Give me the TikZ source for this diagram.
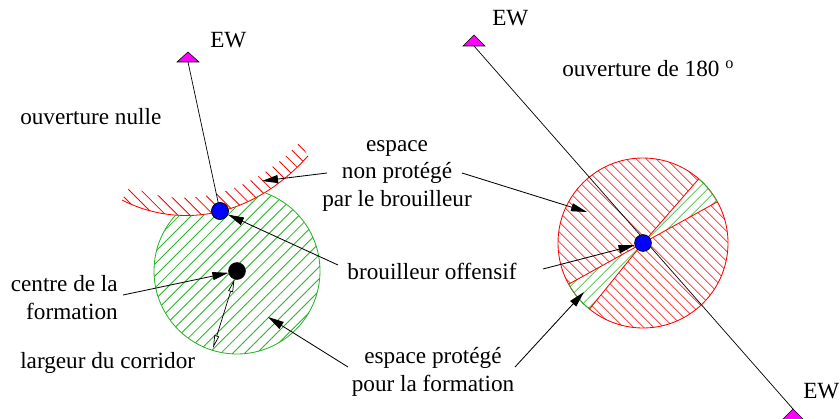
\documentclass[tikz,border=0pt]{standalone}
\usepackage{fontspec}
\setmainfont{Liberation Serif}
\usetikzlibrary{arrows.meta, patterns.meta}
\definecolor{figgreen}{RGB}{40,180,40}
\definecolor{figred}{RGB}{255,0,0}
\definecolor{figmag}{RGB}{255,0,255}
\definecolor{figblue}{RGB}{0,0,255}

\begin{document}
\begin{tikzpicture}[x=0.025cm, y=-0.025cm,
  txt/.style={inner sep=0pt, font=\rmfamily\fontsize{16.5}{19.9}\selectfont},
  lbl/.style={-{Triangle[length=4mm,width=2mm]}, line width=0.6pt},
  corr/.style={{Triangle[open,length=3.2mm,width=1.2mm]}-{Triangle[open,length=3.2mm,width=1.2mm]}, line width=0.5pt},
  dot/.style={circle, draw=black, line width=0.5pt, minimum size=0.42cm, inner sep=0pt},
  ewtri/.style={fill=figmag, draw=black, line width=0.4pt},
  redhatch/.style={pattern={Lines[angle=-45,distance=6pt,line width=0.6pt]}, pattern color=figred},
  greenhatch/.style={pattern={Lines[angle=45,distance=6pt,line width=0.6pt]}, pattern color=figgreen},
  redhatchB/.style={pattern={Lines[angle=-45,distance=5.4pt,line width=0.6pt]}, pattern color=figred},
  greenhatchB/.style={pattern={Lines[angle=45,distance=5.4pt,line width=0.6pt]}, pattern color=figgreen}]

\useasboundingbox (0,0) rectangle (840,419);

%left side: ouverture nulle
\coordinate (arcL) at (122,200);
\coordinate (arcR) at (308,156);
\coordinate (cfpos) at (237,271);

\fill[redhatch] (arcL) .. controls (170,225) and (245,226) .. (arcR)
  -- (300,142) .. controls (243,204) and (172,207) .. (130,186) -- cycle;
\draw[figred, line width=0.6pt] (arcL) .. controls (170,225) and (245,226) .. (arcR);

\begin{scope}
  \clip (arcL) .. controls (170,225) and (245,226) .. (arcR) -- (340,156) -- (340,419) -- (100,419) -- cycle;
  \fill[greenhatch] (cfpos) circle[radius=83];
  \draw[figgreen, line width=0.6pt] (cfpos) circle[radius=83];
\end{scope}

\coordinate (ewA) at (188,52);
\coordinate (ewAfoot) at (188,62);
\filldraw[ewtri] (ewA) -- ++(11,10) -- ++(-22,0) -- cycle;
\node[dot, fill=figblue] (brA) at (220,211) {};
\draw[line width=0.5pt] (ewAfoot) -- (brA.center);
\node[dot, fill=black] (cf) at (cfpos) {};
\node[dot, fill=figblue] (brA) at (220,211) {};

%right side: ouverture de 180
\coordinate (c2) at (643,243);
\fill[redhatchB] (c2) -- ++(-49:85) arc[start angle=-49, end angle=-209, radius=85] -- cycle;
\fill[redhatchB] (c2) -- ++(-231:85) arc[start angle=-231, end angle=-389, radius=85] -- cycle;
\fill[greenhatchB] (c2) -- ++(-29:85) arc[start angle=-29, end angle=-49, radius=85] -- cycle;
\fill[greenhatchB] (c2) -- ++(-209:85) arc[start angle=-209, end angle=-231, radius=85] -- cycle;
\draw[figred, line width=0.6pt] (c2) circle[radius=85];
\draw[figgreen, line width=0.6pt] (c2) ++(-29:85) arc[start angle=-29, end angle=-49, radius=85];
\draw[figgreen, line width=0.6pt] (c2) ++(-209:85) arc[start angle=-209, end angle=-231, radius=85];
\foreach \a in {-29,-49,-209,-231}
  \draw[figred, line width=0.6pt] (c2) -- ++(\a:85);

\coordinate (ewB) at (474,35);
\coordinate (ewBfoot) at (474,46);
\coordinate (ewC) at (793,409);
\filldraw[ewtri] (ewB) -- ++(11,11) -- ++(-22,0) -- cycle;
\filldraw[ewtri] (ewC) -- ++(11,11) -- ++(-22,0) -- cycle;
\draw[line width=0.5pt] (ewBfoot) -- (ewC);
\node[dot, fill=figblue] (brB) at (c2) {};

%labels
\node[txt, anchor=base west] (nulle) at (20,125) {ouverture nulle};
\node[txt, anchor=base west] (ewAl) at (210,48) {EW};
\node[txt, anchor=base west] (ewBl) at (492,26) {EW};
\node[txt, anchor=base west] (ewCl) at (803,398) {EW};
\node[txt, anchor=base west] (ouv) at (562,77) {ouverture de 180 \textsuperscript{o}};
\node[txt, align=center] (nonprot) at (397,176) {espace\\non protégé\\par le brouilleur};
\node[txt, anchor=base] (bo) at (432,279) {brouilleur offensif};
\node[txt, align=center] (prot) at (433,372) {espace protégé\\pour la formation};
\node[txt, align=right, anchor=east] (centre) at (118,298) {centre de la\\formation};
\node[txt, anchor=base west] (largeur) at (20,368) {largeur du corridor};

%arrows
\coordinate (npL) at (327,173);
\coordinate (npR) at (462,173);
\coordinate (boL) at (338,265);
\coordinate (boR) at (543,269);
\coordinate (prL) at (348,367);
\coordinate (prR) at (515,367);
\coordinate (cfL) at (123,295);
\coordinate (corrEnd) at (213,348);
\coordinate (redband) at (262,181);
\coordinate (redcirc) at (587,212);
\coordinate (greenzone) at (268,317);
\coordinate (wedge) at (584,292);

\draw[lbl] (npL) -- (redband);
\draw[lbl] (npR) -- (redcirc);
\draw[lbl] (boL) -- (brA);
\draw[lbl] (boR) -- (brB);
\draw[lbl] (prL) -- (greenzone);
\draw[lbl] (prR) -- (wedge);
\draw[lbl] (cfL) -- (cf);
\draw[corr] (cf) -- (corrEnd);

\end{tikzpicture}
\end{document}
